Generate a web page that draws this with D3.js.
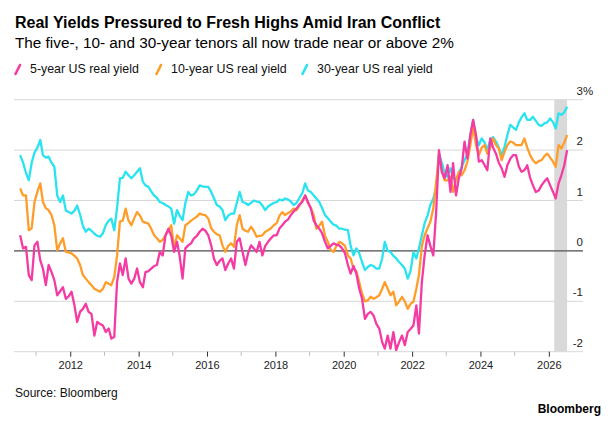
<!DOCTYPE html>
<html lang="en">
<head>
<meta charset="UTF-8">
<title>Real Yields</title>
<script src="https://cdn.jsdelivr.net/npm/d3@7"></script>
<style>
	body{margin:0;background:#fff;}
	svg{display:block;font-family:"Liberation Sans",Arial,sans-serif;}
</style>
</head>
<body>
<svg id="chart" width="612" height="426"></svg>
<script>
// monthly readings, first value is July 2010
var firstMonth = new Date(2010, 6, 15);

var yield5 = [
	0.31, 0.05, 0.08, -0.48, -0.58, 0.11,
	0.18, -0.19, -0.35, -0.68, -0.28, -0.42, -0.58, -0.88, -0.80, -0.72, -0.95, -0.90,
	-0.81, -1.08, -1.41, -1.21, -1.15, -1.05, -1.21, -1.25, -1.68, -1.41, -1.45, -1.48,
	-1.61, -1.54, -1.74, -1.71, -0.62, -0.25, -0.48, -0.15, -0.55, -0.65, -0.55, -0.35,
	-0.62, -0.72, -0.42, -0.40, -0.35, -0.30, -0.28, -0.02, -0.09, 0.31, 0.44, 0.30,
	-0.02, 0.18, -0.10, -0.55, 0.05, 0.11, 0.15, 0.25, 0.30, 0.38, 0.44, 0.40,
	0.31, 0.11, -0.15, -0.28, -0.20, -0.15, -0.38, -0.25, -0.15, -0.35, 0.18, 0.25,
	-0.02, -0.28, -0.05, 0.11, 0.05, -0.02, 0.18, -0.09, 0.10, 0.18, 0.25, 0.31,
	0.31, 0.45, 0.51, 0.58, 0.62, 0.71, 0.78, 0.84, 0.92, 0.97, 1.10, 0.97,
	0.84, 0.60, 0.51, 0.44, 0.35, 0.18, 0.05, 0.10, 0.15, 0.12, 0.11, 0.05,
	-0.05, -0.28, -0.45, -0.30, -0.45, -0.75, -0.95, -1.35, -1.25, -1.21, -1.28, -1.45,
	-1.54, -1.81, -1.94, -1.68, -1.94, -1.61, -1.97, -1.81, -1.68, -1.87, -1.61, -1.55,
	-1.48, -1.08, -1.64, -0.62, -0.09, 0.31, 0.10, -0.09, 0.77, 2.00, 1.57, 1.44,
	1.70, 1.17, 1.74, 1.10, 1.44, 1.64, 2.17, 1.83, 2.30, 2.60, 2.30, 1.77,
	1.80, 1.70, 1.60, 2.23, 2.05, 1.93, 1.75, 1.64, 1.47, 1.70, 1.83, 1.90,
	1.90, 1.67, 1.57, 1.60, 1.70, 1.45, 1.30, 1.17, 1.20, 1.30, 1.38, 1.44,
	1.30, 1.17, 1.04, 1.34, 1.50, 1.70, 2.00
];

var yield10 = [
	1.24, 1.10, 1.10, 0.41, 0.45, 0.97,
	1.17, 1.34, 0.97, 0.85, 0.81, 0.71, 0.51, 0.01, 0.15, 0.25, -0.02, -0.03,
	-0.05, -0.10, -0.15, -0.28, -0.48, -0.55, -0.62, -0.68, -0.75, -0.78, -0.81, -0.75,
	-0.62, -0.65, -0.68, -0.52, -0.10, 0.58, 0.60, 0.84, 0.60, 0.51, 0.65, 0.77,
	0.70, 0.58, 0.56, 0.54, 0.44, 0.31, 0.25, 0.18, 0.22, 0.31, 0.40, 0.51,
	0.05, 0.31, 0.25, 0.18, 0.51, 0.55, 0.60, 0.64, 0.68, 0.74, 0.72, 0.71,
	0.64, 0.45, 0.38, 0.33, 0.31, 0.11, -0.02, 0.10, 0.15, 0.08, 0.51, 0.71,
	0.44, 0.40, 0.38, 0.48, 0.40, 0.28, 0.30, 0.31, 0.38, 0.41, 0.45, 0.51,
	0.55, 0.70, 0.77, 0.71, 0.75, 0.78, 0.84, 0.81, 0.90, 1.00, 1.10, 0.95,
	0.85, 0.71, 0.44, 0.50, 0.58, 0.30, 0.18, 0.02, -0.02, 0.10, 0.18, 0.15,
	0.10, -0.09, -0.15, -0.35, -0.40, -0.62, -0.85, -1.00, -0.98, -0.91, -0.95, -0.92,
	-0.88, -0.75, -0.62, -0.75, -0.88, -0.81, -1.08, -1.00, -0.91, -1.00, -1.15, -1.05,
	-1.01, -0.75, -0.48, 0.10, 0.31, 0.45, 0.58, 0.84, 1.37, 1.90, 1.57, 1.40,
	1.40, 1.47, 1.17, 1.40, 1.57, 1.50, 1.60, 1.77, 2.10, 2.45, 2.10, 1.90,
	2.05, 2.10, 1.93, 2.05, 2.23, 2.10, 2.03, 1.80, 1.97, 2.10, 2.17, 2.15,
	2.10, 2.10, 2.10, 2.23, 2.05, 1.90, 1.80, 1.74, 1.78, 1.80, 1.88, 1.93,
	1.85, 1.77, 1.67, 2.10, 2.03, 2.15, 2.30
];

var yield30 = [
	1.90, 1.75, 1.55, 1.40, 1.75, 1.95,
	2.05, 2.20, 1.90, 1.85, 1.87, 1.75, 1.67, 1.10, 0.97, 1.10, 0.80, 0.77,
	0.74, 0.80, 0.90, 0.72, 0.50, 0.38, 0.44, 0.40, 0.34, 0.30, 0.28, 0.35,
	0.51, 0.60, 0.64, 0.41, 0.85, 1.44, 1.45, 1.57, 1.50, 1.44, 1.50, 1.57,
	1.64, 1.37, 1.30, 1.27, 1.18, 1.10, 1.05, 0.97, 0.95, 0.91, 0.88, 0.84,
	0.54, 0.81, 0.70, 0.61, 0.95, 1.17, 1.10, 1.12, 1.20, 1.30, 1.28, 1.27,
	1.27, 1.17, 1.05, 0.91, 0.88, 0.81, 0.61, 0.70, 0.74, 0.74, 0.95, 1.17,
	0.97, 0.95, 0.91, 0.95, 1.00, 0.98, 0.97, 0.90, 0.81, 0.88, 0.92, 0.95,
	0.97, 1.02, 1.00, 1.04, 1.02, 0.98, 0.91, 0.95, 1.05, 1.14, 1.34, 1.20,
	1.17, 1.10, 1.04, 0.97, 0.85, 0.71, 0.65, 0.58, 0.52, 0.50, 0.44, 0.44,
	0.42, 0.41, 0.10, -0.09, 0.05, -0.05, -0.22, -0.38, -0.32, -0.28, -0.30, -0.35,
	-0.35, -0.15, 0.18, 0.00, -0.02, -0.10, -0.15, -0.22, -0.28, -0.35, -0.55, -0.40,
	-0.02, -0.15, 0.05, 0.31, 0.55, 0.70, 0.91, 1.04, 1.25, 1.93, 1.74, 1.55,
	1.47, 1.64, 1.45, 1.40, 1.55, 1.67, 1.80, 1.93, 2.30, 2.60, 2.25, 2.10,
	2.23, 2.15, 2.00, 2.20, 2.26, 2.17, 2.05, 1.90, 2.07, 2.30, 2.50, 2.45,
	2.40, 2.55, 2.65, 2.73, 2.60, 2.60, 2.66, 2.58, 2.50, 2.48, 2.53, 2.55,
	2.63, 2.55, 2.43, 2.73, 2.70, 2.75, 2.86
];

var seriesNames = ["5-year US real yield", "10-year US real yield", "30-year US real yield"];
var seriesColors = ["#f53ba3", "#ff9d2a", "#2ae3f0"];
var yTicks = [-2, -1, 0, 1, 2, 3];
var shadeStart = new Date(2026, 1, 28); // Iran conflict

var months = yield5.map(function(d, i){ return d3.timeMonth.offset(firstMonth, i); });

var svg = d3.select("#chart");

var x = d3.scaleTime()
	.domain([new Date(2010, 4, 10), new Date(2027, 0, 1)])
	.range([14, 583]);
var y = d3.scaleLinear()
	.domain([-2, 3])
	.range([351.7, 99.7]);

// titles
svg.append("text").attr("x", 15).attr("y", 28)
	.style("font-size", "16px").style("font-weight", "bold").attr("fill", "#000")
	.text("Real Yields Pressured to Fresh Highs Amid Iran Conflict");
svg.append("text").attr("x", 15).attr("y", 48)
	.style("font-size", "15.3px").attr("fill", "#000")
	.text("The five-, 10- and 30-year tenors all now trade near or above 2%");

// legend
var legendX = [15, 156, 302];
var legend = svg.selectAll("g.legend")
	.data(seriesNames)
	.enter()
	.append("g")
	.attr("class", "legend")
	.attr("transform", function(d, i){ return "translate(" + legendX[i] + ",0)"; });
legend.append("line")
	.attr("x1", 0.5).attr("y1", 74).attr("x2", 5).attr("y2", 65)
	.attr("stroke", function(d, i){ return seriesColors[i]; })
	.attr("stroke-width", 2.6).attr("stroke-linecap", "round");
legend.append("text")
	.attr("x", 15).attr("y", 73)
	.style("font-size", "12.4px").attr("fill", "#111")
	.text(function(d){ return d; });

// gridlines
svg.selectAll("line.grid")
	.data(yTicks)
	.enter()
	.append("line")
	.attr("class", "grid")
	.attr("x1", 14).attr("x2", 583)
	.attr("y1", function(d){ return y(d); })
	.attr("y2", function(d){ return y(d); })
	.attr("stroke", "#d8d8d8").attr("stroke-width", 1);

// shaded period
svg.append("rect")
	.attr("x", x(shadeStart))
	.attr("y", y(3))
	.attr("width", x(months[months.length - 1]) - x(shadeStart))
	.attr("height", y(-2) - y(3))
	.attr("fill", "#d9d9d9");

svg.append("line")
	.attr("x1", 14).attr("x2", 583)
	.attr("y1", y(0)).attr("y2", y(0))
	.attr("stroke", "#555").attr("stroke-width", 1.2);

// y labels sit above their gridline
svg.selectAll("text.ylab")
	.data(yTicks)
	.enter()
	.append("text")
	.attr("class", "ylab")
	.attr("x", 583)
	.attr("y", function(d){ return y(d) - 5; })
	.attr("text-anchor", "end")
	.style("font-size", "11.5px").attr("fill", "#222")
	.text(function(d){ return d; });
svg.append("text")
	.attr("x", 583).attr("y", y(3) - 5)
	.style("font-size", "11.5px").attr("fill", "#222")
	.text("%");

// x axis
var majorYears = d3.timeYear.range(new Date(2012, 0, 1), new Date(2027, 0, 1), 2);
var minorYears = d3.timeYear.range(new Date(2011, 0, 1), new Date(2027, 0, 1), 2);

svg.selectAll("line.minor")
	.data(minorYears)
	.enter()
	.append("line")
	.attr("class", "minor")
	.attr("x1", function(d){ return x(d); })
	.attr("x2", function(d){ return x(d); })
	.attr("y1", y(-2)).attr("y2", y(-2) + 4)
	.attr("stroke", "#bbb");

var xAxis = svg.append("g")
	.attr("transform", "translate(0," + y(-2) + ")")
	.call(d3.axisBottom(x).tickValues(majorYears).tickSize(5).tickPadding(5)
		.tickFormat(d3.timeFormat("%Y")));
xAxis.select(".domain").remove();
xAxis.selectAll("line").attr("stroke", "#333");
xAxis.selectAll("text")
	.style("font-size", "11px")
	.style("font-family", "\"Liberation Sans\",Arial,sans-serif")
	.attr("fill", "#222");

// the three yield lines, 30-year underneath
var line = d3.line()
	.x(function(d, i){ return x(months[i]); })
	.y(function(d){ return y(d); });

var allSeries = [yield5, yield10, yield30];
svg.selectAll("path.series")
	.data([2, 1, 0])
	.enter()
	.append("path")
	.attr("class", "series")
	.attr("d", function(k){ return line(allSeries[k]); })
	.attr("fill", "none")
	.attr("stroke", function(k){ return seriesColors[k]; })
	.attr("stroke-width", 2.3)
	.attr("stroke-linejoin", "round");

// footer
svg.append("text").attr("x", 15).attr("y", 397)
	.style("font-size", "12px").attr("fill", "#111")
	.text("Source: Bloomberg");
svg.append("text").attr("x", 601).attr("y", 413)
	.attr("text-anchor", "end")
	.style("font-size", "12px").style("font-weight", "bold").attr("fill", "#000")
	.text("Bloomberg");
</script>
</body>
</html>
